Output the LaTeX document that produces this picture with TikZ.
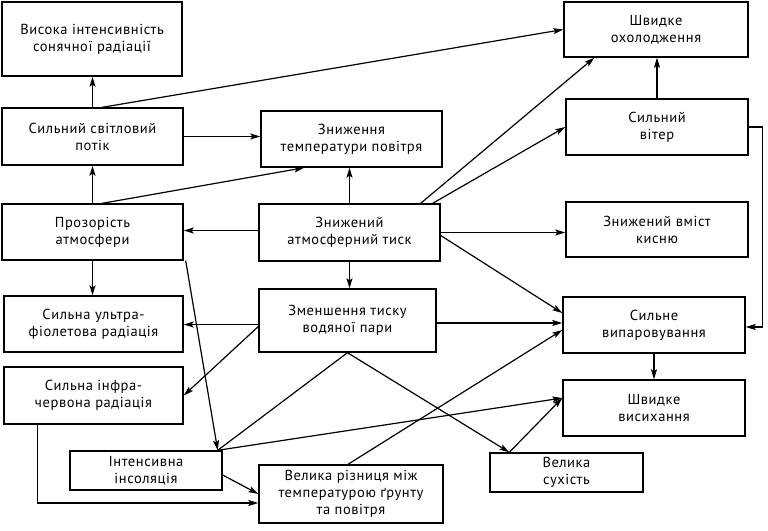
\documentclass[tikz,border=0pt]{standalone}
\usepackage{fontspec}
\setmainfont{PT Sans}[LetterSpace=4]
\usetikzlibrary{arrows.meta,calc}
\begin{document}
\begin{tikzpicture}[x=1pt,y=-1pt,
  box/.style={draw,line width=1.4pt,rectangle,inner sep=0pt,align=center,
    font=\fontsize{14.5}{17}\selectfont},
  arr/.style={line width=1.2pt,-{Stealth[length=10pt,width=6pt,inset=2pt]}},
  ln/.style={line width=1.2pt}]
\useasboundingbox (0,0) rectangle (768,530);
\node[box,minimum width=180pt,minimum height=74pt] (A) at (92,39) {Висока інтенсивність\\сонячної радіації};
\node[box,minimum width=181pt,minimum height=57pt] (B) at (92.5,136.5) {Сильний світловий\\потік};
\node[box,minimum width=181pt,minimum height=56pt] (C) at (351.5,139) {Зниження\\температури повітря};
\node[box,minimum width=181pt,minimum height=56pt] (D) at (92.5,232) {Прозорість\\атмосфери};
\node[box,minimum width=181pt,minimum height=57pt] (E) at (349.5,232.5) {Знижений\\атмосферний тиск};
\node[box,minimum width=184pt,minimum height=55pt] (F) at (656,29.5) {Швидке\\охолодження};
\node[box,minimum width=182pt,minimum height=56pt] (G) at (657,127) {Сильний\\вітер};
\node[box,minimum width=182pt,minimum height=55pt] (H) at (657,229.5) {Знижений вміст\\кисню};
\node[box,minimum width=179pt,minimum height=56pt] (I) at (93.5,324) {Сильна ультра-\\фіолетова радіація};
\node[box,minimum width=177pt,minimum height=63pt] (J) at (347.5,320.5) {Зменшення тиску\\водяної пари};
\node[box,minimum width=179pt,minimum height=57pt] (K) at (93.5,395.5) {Сильна інфра-\\червона радіація};
\node[box,minimum width=152pt,minimum height=39pt] (L) at (146,470.5) {Інтенсивна\\інсоляція};
\node[box,minimum width=184pt,minimum height=58pt] (M) at (351,494) {Велика різниця між\\температурою ґрунту\\та повітря};
\node[box,minimum width=182pt,minimum height=56pt] (N) at (654,325) {Сильне\\випаровування};
\node[box,minimum width=182pt,minimum height=56pt] (O) at (654,408) {Швидке\\висихання};
\node[box,minimum width=153pt,minimum height=39pt] (P) at (566.5,472.5) {Велика\\сухість};

\coordinate (Lc) at ([xshift=-5pt]L.north east);
\coordinate (Oin) at ([yshift=10pt]O.west);
\coordinate (Pt) at ([xshift=20pt]P.north west);

\draw[arr] (B.north) -- (B.north |- A.south);
\draw[arr] ([xshift=101pt]B.north west) -- (F.west);
\draw[arr] (B.east) -- (B.east -| C.west);
\draw[arr] (D.north) -- (B.south);
\draw[arr] ([xshift=101pt]D.north west) -- ([xshift=44pt]C.south west);
\draw[arr] (E.north) -- (E.north |- C.south);
\draw[arr] ([yshift=2pt]E.west) -- ([yshift=2pt]E.west -| D.east);
\draw[arr] ([xshift=-20pt]E.north east) -- ([xshift=31pt]F.south west);
\draw[arr] ([xshift=-8pt]E.north east) -- (G.west);
\draw[arr] (E.east) -- (E.east -| H.west);
\draw[arr] ([yshift=-3pt]E.east) -- ([yshift=12pt]N.west);
\draw[arr] (E.south) -- (E.south |- J.north);
\draw[arr] ([yshift=-4pt]J.west) -- ([yshift=-4pt]J.west -| I.east);
\draw[arr] ([yshift=-6pt]J.west) -- (K.east);
\draw[arr] ([yshift=-2.5pt]J.east) -- ([yshift=-2.5pt]J.east -| N.west);
\draw[arr] (J.south) -- (Pt);
\draw[ln] (J.south) -- (Lc);
\draw[arr] (Lc) -- (Oin);
\draw[arr] ([xshift=2pt]D.south east) -- (Lc);
\draw[arr] ([xshift=-3pt]M.north) -- ([yshift=-5pt]N.west);
\draw[arr] (Pt) -- (Oin);
\draw[arr] (N.south) -- (O.north);
\draw[arr] (G.north) -- (G.north |- F.south);
\draw[arr] (G.east) -- ++(14,0) |- ([yshift=-2pt]N.east);
\draw[arr] (D.south) -- (D.south |- I.north);
\draw[arr] ([xshift=34pt]K.south west) |- ([yshift=-9pt]M.west);
\draw[arr] ([yshift=-4.5pt]L.east) -- (M.west);
\end{tikzpicture}
\end{document}
